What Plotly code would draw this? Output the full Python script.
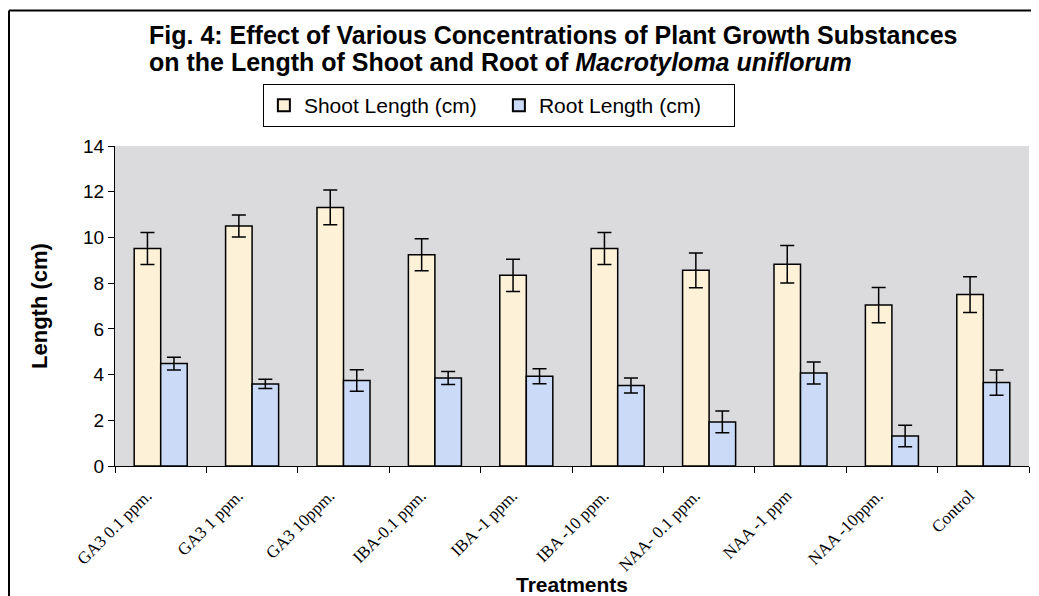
import plotly.graph_objects as go

categories = ["GA3 0.1 ppm.", "GA3 1 ppm.", "GA3 10ppm.", "IBA-0.1 ppm.", "IBA -1 ppm.",
              "IBA -10 ppm.", "NAA- 0.1 ppm.", "NAA -1 ppm", "NAA -10ppm.", "Control"]
shoot = [9.52, 10.5, 11.31, 9.24, 8.34, 9.52, 8.56, 8.83, 7.04, 7.5]
shoot_err = [0.7, 0.48, 0.76, 0.7, 0.71, 0.7, 0.76, 0.82, 0.77, 0.78]
root = [4.48, 3.59, 3.74, 3.85, 3.93, 3.52, 1.93, 4.07, 1.31, 3.65]
root_err = [0.28, 0.2, 0.47, 0.28, 0.33, 0.33, 0.48, 0.48, 0.47, 0.55]
y_ticks = [0, 2, 4, 6, 8, 10, 12, 14]
title_lines = ["<b>Fig. 4: Effect of Various Concentrations of Plant Growth Substances</b>",
               "<b>on the Length of Shoot and Root of <i>Macrotyloma uniflorum</i></b>"]

fig = go.Figure()
fig.add_trace(go.Bar(
    x=categories, y=shoot, name="Shoot Length (cm)",
    marker=dict(color="#FDF1D8", line=dict(color="black", width=1.5)),
    error_y=dict(type="data", array=shoot_err, color="black", thickness=1.5, width=7),
))
fig.add_trace(go.Bar(
    x=categories, y=root, name="Root Length (cm)",
    marker=dict(color="#CADAF7", line=dict(color="black", width=1.5)),
    error_y=dict(type="data", array=root_err, color="black", thickness=1.5, width=7),
))

# page body has an 8px margin, so the figure is sized to the remaining window
W, H = 1031, 588
ml, mr, mt, mb = 107, 10, 138, 130
pw, ph = W - ml - mr, H - mt - mb

fig.update_layout(
    width=W, height=H,
    margin=dict(l=ml, r=mr, t=mt, b=mb, autoexpand=False),
    paper_bgcolor="white",
    plot_bgcolor="#DBDBDE",
    barmode="group", bargap=0.42, bargroupgap=0,
    showlegend=True,
    legend=dict(orientation="h", x=0.42, xanchor="center", y=1.0 + 19/ph, yanchor="bottom",
                bordercolor="black", borderwidth=1, bgcolor="white",
                font=dict(family="Arial, Liberation Sans", size=21, color="black"),
                itemsizing="constant", traceorder="normal", itemwidth=30,
                entrywidth=190),
    font=dict(family="Arial, Liberation Sans", color="black"),
    xaxis=dict(
        type="category", tickson="boundaries", ticks="outside", ticklen=6, tickcolor="black",
        showline=True, linecolor="black", linewidth=1, tickangle=-45, automargin=False,
        ticklabelstandoff=12, ticklabelshift=-14,
        tickfont=dict(family="Liberation Serif, Times New Roman", size=17, color="black"),
        title=dict(text="<b>Treatments</b>", font=dict(family="Arial, Liberation Sans", size=21), standoff=19),
        showgrid=False, mirror=False,
    ),
    yaxis=dict(
        range=[0, 14], tickvals=y_ticks, ticks="outside", ticklen=6, tickcolor="black",
        showline=True, linecolor="black", linewidth=1, automargin=False,
        tickfont=dict(family="Arial, Liberation Sans", size=19, color="black"),
        title=dict(text="<b>Length (cm)</b>", font=dict(family="Arial, Liberation Sans", size=22), standoff=29),
        showgrid=False, zeroline=False,
    ),
)

# Title lines as left-aligned annotations
for text, yc in zip(title_lines, [27, 54]):
    fig.add_annotation(
        xref="paper", yref="paper",
        x=(139 - ml) / pw, y=1 + (mt - yc) / ph,
        xanchor="left", yanchor="middle", align="left", showarrow=False,
        text=text,
        font=dict(family="Arial, Liberation Sans", size=25, color="black"),
    )

# outer chart frame (left and top edges)
fx0 = (1 - ml) / pw
fy1 = 1 + (mt - 2.5) / ph
fy0 = -(mb + 5) / ph
fx1 = 1 + (mr + 5) / pw
fig.add_shape(type="line", xref="paper", yref="paper", x0=fx0, x1=fx1, y0=fy1, y1=fy1,
              line=dict(color="black", width=2))
fig.add_shape(type="line", xref="paper", yref="paper", x0=fx0, x1=fx0, y0=fy0, y1=fy1,
              line=dict(color="black", width=2))

fig.write_html("out.html")
